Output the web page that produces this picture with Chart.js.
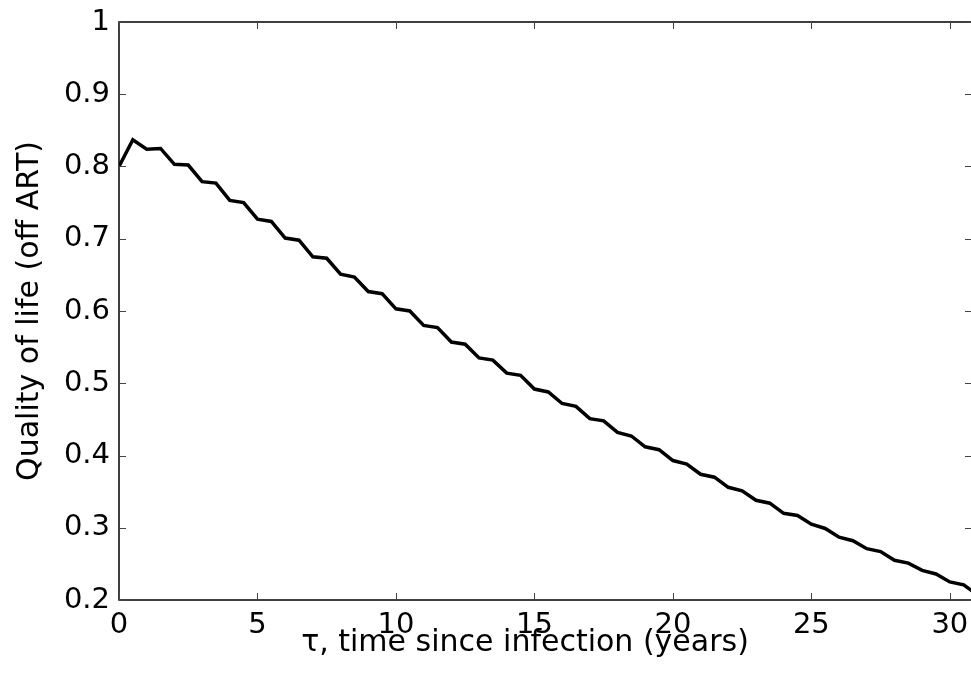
<!DOCTYPE html>
<html lang="en">
<head>
  <meta charset="UTF-8" />
  <title>Quality of life (off ART)</title>
  <script src="https://cdn.jsdelivr.net/npm/chart.js"></script>
  <style>
    html, body { margin: 0; padding: 0; background: #fff; overflow: hidden; }
    .chart-box { width: 972px; height: 675px; }
  </style>
</head>
<body>
  <div class="chart-box">
    <canvas id="qolChart" width="972" height="675"></canvas>
  </div>

  <script>
    // time since infection (years), sampled every half year
    const tau = [
      0, 0.5, 1, 1.5, 2, 2.5, 3, 3.5, 4, 4.5,
      5, 5.5, 6, 6.5, 7, 7.5, 8, 8.5, 9, 9.5,
      10, 10.5, 11, 11.5, 12, 12.5, 13, 13.5, 14, 14.5,
      15, 15.5, 16, 16.5, 17, 17.5, 18, 18.5, 19, 19.5,
      20, 20.5, 21, 21.5, 22, 22.5, 23, 23.5, 24, 24.5,
      25, 25.5, 26, 26.5, 27, 27.5, 28, 28.5, 29, 29.5,
      30, 30.5, 31
    ];
    // quality of life, off ART
    const quality = [
      0.800, 0.837, 0.824, 0.825, 0.803, 0.802, 0.779, 0.777, 0.753, 0.750,
      0.727, 0.724, 0.701, 0.698, 0.675, 0.673, 0.651, 0.647, 0.627, 0.624,
      0.603, 0.600, 0.580, 0.577, 0.557, 0.554, 0.535, 0.532, 0.514, 0.511,
      0.492, 0.488, 0.472, 0.468, 0.451, 0.448, 0.432, 0.427, 0.412, 0.408,
      0.393, 0.388, 0.374, 0.370, 0.356, 0.351, 0.338, 0.334, 0.320, 0.317,
      0.305, 0.299, 0.287, 0.282, 0.271, 0.267, 0.255, 0.251, 0.241, 0.236,
      0.225, 0.221, 0.207
    ];
    const xTicks = [0, 5, 10, 15, 20, 25, 30];
    const yTicks = [0.2, 0.3, 0.4, 0.5, 0.6, 0.7, 0.8, 0.9, 1];

    const xTitle = 'τ, time since infection (years)';
    const yTitle = 'Quality of life (off ART)';
    const FONT = '"DejaVu Sans", sans-serif';

    // box round the plot, inward tick marks on all four sides, axis titles
    const matlabAxes = {
      id: 'matlabAxes',
      afterDraw(chart) {
        const { ctx, chartArea: a, scales } = chart;
        const tl = 7;
        ctx.save();
        ctx.strokeStyle = '#000';
        ctx.lineWidth = 1.5;
        ctx.strokeRect(a.left, a.top, a.right - a.left, a.bottom - a.top);

        ctx.lineWidth = 1;
        ctx.strokeStyle = '#444';
        ctx.beginPath();
        xTicks.forEach(v => {
          const px = Math.round(scales.x.getPixelForValue(v)) + 0.5;
          ctx.moveTo(px, a.bottom); ctx.lineTo(px, a.bottom - tl);
          ctx.moveTo(px, a.top); ctx.lineTo(px, a.top + tl);
        });
        yTicks.forEach(v => {
          const py = Math.round(scales.y.getPixelForValue(v)) + 0.5;
          ctx.moveTo(a.left, py); ctx.lineTo(a.left + tl, py);
          ctx.moveTo(a.right, py); ctx.lineTo(a.right - tl, py);
        });
        ctx.stroke();

        ctx.fillStyle = '#000';
        ctx.font = '30px ' + FONT;
        ctx.textAlign = 'center';
        ctx.textBaseline = 'alphabetic';
        ctx.fillText(xTitle, 525, 651);

        ctx.translate(38, (a.top + a.bottom) / 2);
        ctx.rotate(-Math.PI / 2);
        ctx.fillText(yTitle, 0, 0);
        ctx.restore();
      }
    };

    // keep the plot box fixed: no extra room for edge labels
    const noEdgePadding = s => {
      s.paddingLeft = 0; s.paddingRight = 0;
      s.paddingTop = 0; s.paddingBottom = 0;
    };

    new Chart(document.getElementById('qolChart'), {
      type: 'line',
      data: {
        datasets: [{
          data: tau.map((t, i) => ({ x: t, y: quality[i] })),
          borderColor: '#000',
          borderWidth: 3.5,
          pointRadius: 0,
          tension: 0,
          fill: false
        }]
      },
      options: {
        responsive: false,
        animation: false,
        layout: { padding: { top: 22, right: 0, left: 0, bottom: 0 } },
        plugins: { legend: { display: false }, tooltip: { enabled: false } },
        scales: {
          x: {
            type: 'linear',
            min: 0,
            max: 30.8,
            afterFit: s => { s.height = 75; noEdgePadding(s); },
            afterBuildTicks: s => { s.ticks = xTicks.map(v => ({ value: v })); },
            grid: { display: false, drawTicks: false },
            border: { display: false },
            ticks: {
              color: '#000',
              padding: 8,
              maxRotation: 0,
              font: { family: FONT, size: 29 }
            }
          },
          y: {
            min: 0.2,
            max: 1,
            afterFit: s => { s.width = 119; noEdgePadding(s); },
            afterBuildTicks: s => { s.ticks = yTicks.map(v => ({ value: v })); },
            grid: { display: false, drawTicks: false },
            border: { display: false },
            ticks: {
              color: '#000',
              padding: 9,
              font: { family: FONT, size: 29 },
              callback: v => String(+v.toFixed(1))
            }
          }
        }
      },
      plugins: [matlabAxes]
    });
  </script>
</body>
</html>
